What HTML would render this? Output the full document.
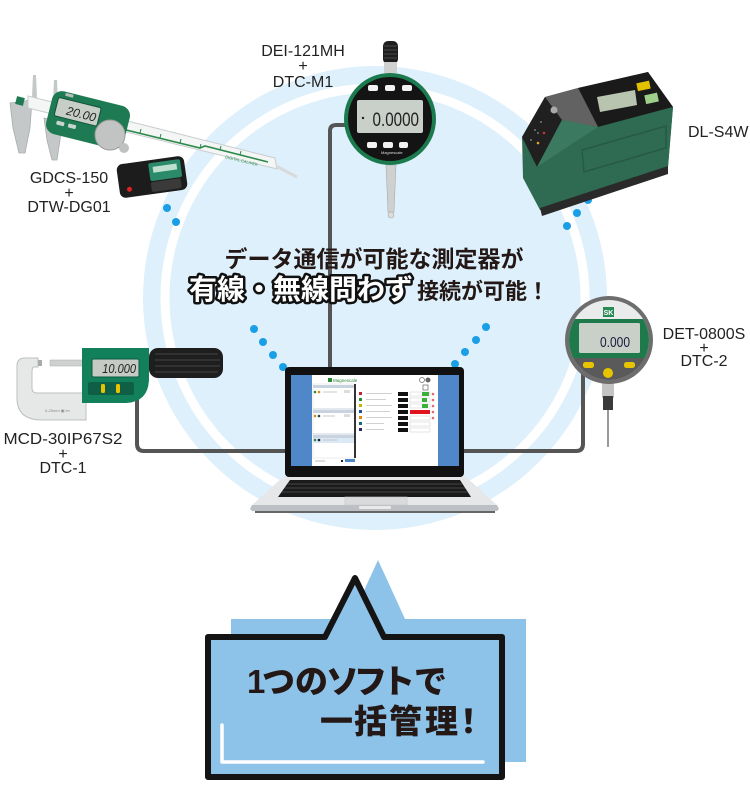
<!DOCTYPE html>
<html><head><meta charset="utf-8">
<style>
html,body{margin:0;padding:0;background:#fff;}
svg{display:block;}
.lbl{font-family:"Liberation Sans",sans-serif;font-size:16px;fill:#222;text-anchor:middle;}
.jp{font-family:"Liberation Sans","Noto Sans CJK JP",sans-serif;}
</style></head><body>
<svg width="750" height="785" viewBox="0 0 750 785" xmlns="http://www.w3.org/2000/svg">
<defs>
<clipPath id="detc"><circle cx="609" cy="340" r="40"/></clipPath>
</defs>
<rect width="750" height="785" fill="#fff"/>
<!-- big circle -->
<circle cx="375" cy="298" r="232" fill="#def0fb"/>
<circle cx="375" cy="298" r="210" fill="none" stroke="#fff" stroke-width="9"/>

<!-- connector lines -->
<g fill="none" stroke="#555" stroke-width="4" stroke-linejoin="round">
<path d="M348 125 H336 Q330 125 330 131 V372"/>
<path d="M137 398 V444 Q137 451 144 451 H290"/>
<path d="M460 451 H576 Q583 451 583 444 V372"/>
</g>

<!-- dots -->
<g fill="#1a9fe6">
<circle cx="167" cy="208" r="4"/><circle cx="176" cy="222" r="4"/>
<circle cx="588" cy="200" r="4"/><circle cx="577" cy="213" r="4"/><circle cx="567" cy="226" r="4"/>
<circle cx="254" cy="329" r="4"/><circle cx="263" cy="342" r="4"/><circle cx="273" cy="355" r="4"/><circle cx="283" cy="367" r="4"/>
<circle cx="486" cy="327" r="4"/><circle cx="476" cy="340" r="4"/><circle cx="465" cy="352" r="4"/><circle cx="455" cy="364" r="4"/>
</g>

<!-- center text -->
<text class="jp" x="374" y="267" font-size="23" font-weight="700" text-anchor="middle" fill="#231815">データ通信が可能な測定器が</text>
<text class="jp" y="299" font-weight="700"><tspan x="189" font-size="28" fill="#fff" stroke="#111" stroke-width="5" stroke-linejoin="round" paint-order="stroke">有線・無線問わず</tspan><tspan dx="4" font-size="22" fill="#231815">接続が可能！</tspan></text>

<!-- ===== Caliper ===== -->
<g>
<polygon points="10,103 32,100 30,128 25,153 19,153 13,128" fill="#c5c8c8" stroke="#a9acac" stroke-width="0.8"/>
<polygon points="32,97 33,75 36,75 37,98" fill="#c5c8c8"/>
<polygon points="53,102 54,80 57,80 58,104" fill="#c5c8c8"/>
<polygon points="44,118 62,122 60,140 57,160 52,160 47,140" fill="#c5c8c8" stroke="#a9acac" stroke-width="0.8"/>
<polygon points="28,96 275,158 277,169 28,108" fill="#f4f6f6" stroke="#c8cccc" stroke-width="1"/>
<line x1="276" y1="166" x2="297" y2="177" stroke="#d8dada" stroke-width="3"/>
<polyline points="110,126 200,148 205,146 268,162" fill="none" stroke="#2b8a4a" stroke-width="1.6"/>
<g stroke="#2b8a4a" stroke-width="1">
<line x1="140" y1="133" x2="141" y2="129"/><line x1="160" y1="138" x2="161" y2="134"/><line x1="180" y1="143" x2="181" y2="139"/><line x1="200" y1="148" x2="201" y2="144"/><line x1="220" y1="150" x2="221" y2="146"/><line x1="240" y1="155" x2="241" y2="151"/>
</g>
<text x="0" y="0" font-family="Liberation Sans,sans-serif" font-size="4" fill="#2b8a4a" transform="translate(225,158) rotate(14)">DIGITAL CALIPER</text>
<g transform="translate(88,120) rotate(14)">
<rect x="-40" y="-22" width="80" height="44" rx="10" fill="#1e7a52"/>
<rect x="-34" y="-15" width="44" height="19" rx="2" fill="#c7cdc7" stroke="#0f5236" stroke-width="1"/>
<text x="7" y="0" font-family="Liberation Sans,sans-serif" font-size="12" text-anchor="end" fill="#222" font-style="italic">20.00</text>
<rect x="-30" y="8" width="8" height="4" rx="1" fill="#c9d4cf"/><rect x="-18" y="8" width="8" height="4" rx="1" fill="#c9d4cf"/>
<rect x="-28" y="-21" width="8" height="3" fill="#bbb"/>
</g>
<circle cx="110" cy="135" r="15" fill="#c2c4c4" stroke="#9a9c9c" stroke-width="1"/>
<circle cx="124" cy="148" r="5" fill="#bfc1c1"/>
<rect x="16" y="97" width="8" height="8" fill="#1e7a52" transform="rotate(14 20 101)"/>
</g>
<!-- DTW-DG01 -->
<g transform="rotate(-8 152 177)">
<rect x="118" y="160" width="68" height="34" rx="6" fill="#1c1c1c"/>
<rect x="150" y="163" width="32" height="18" rx="2" fill="#2a8a6a"/>
<rect x="154" y="167" width="24" height="6" fill="#bfe0cf"/>
<rect x="150" y="182" width="30" height="10" rx="2" fill="#3a3a3a"/>
<circle cx="128" cy="186" r="2.5" fill="#d22"/>
</g>

<!-- ===== DEI-121MH dial gauge ===== -->
<g>
<rect x="383" y="41" width="15" height="23" rx="5" fill="#1e1e1e"/>
<g stroke="#555" stroke-width="0.8"><line x1="384" y1="46" x2="397" y2="46"/><line x1="384" y1="50" x2="397" y2="50"/><line x1="384" y1="54" x2="397" y2="54"/><line x1="384" y1="58" x2="397" y2="58"/></g>
<rect x="384" y="62" width="13" height="11" fill="#cfd1d1"/>
<polygon points="386,165 396,165 394,212 388,212" fill="#cfd1d1" stroke="#aaa" stroke-width="0.6"/>
<circle cx="391" cy="215" r="3" fill="#ddd" stroke="#aaa" stroke-width="0.6"/>
<circle cx="390" cy="119" r="46" fill="#1b7a4e"/>
<circle cx="390" cy="119" r="42" fill="#141414"/>
<rect x="357" y="100" width="66" height="33" rx="2" fill="#c9cfc9"/>
<text x="0" y="0" font-family="Liberation Sans,sans-serif" font-size="19" fill="#222" transform="translate(419,126) scale(0.8,1)" text-anchor="end">0.0000</text>
<circle cx="363" cy="118" r="1.2" fill="#222"/>
<g fill="#f2f2f2"><rect x="368" y="85" width="10" height="6" rx="2"/><rect x="385" y="85" width="10" height="6" rx="2"/><rect x="402" y="85" width="10" height="6" rx="2"/>
<rect x="367" y="142" width="10" height="6" rx="2"/><rect x="383" y="142" width="10" height="6" rx="2"/><rect x="399" y="142" width="9" height="6" rx="2"/></g>
<text x="381" y="154" font-family="Liberation Sans,sans-serif" font-size="4" fill="#ddd">Magnescale</text>
</g>

<!-- ===== DL-S4W ===== -->
<g>
<polygon points="522,137 545,97 578,88 648,72 673,107 668,167 540,210 523,178" fill="#2f6a52"/>
<polygon points="578,88 648,72 673,107 598,127" fill="#1a1a1a"/>
<polygon points="545,97 578,88 598,127 562,120" fill="#626262"/>
<polygon points="522,137 545,97 562,120 537,167" fill="#202020"/>
<polygon points="562,120 598,127 537,167" fill="#3b7a60"/>
<polygon points="598,127 673,107 668,167 540,210 537,167" fill="#2f6a52"/>
<polyline points="582,150 666,126 666,148 584,172 582,150" fill="none" stroke="#275a46" stroke-width="1.5"/>
<polygon points="540,208 668,166 668,174 542,216" fill="#2a2a2a"/>
<polygon points="597,97 635,90 637,105 600,112" fill="#b9c4b0"/>
<rect x="637" y="82" width="13" height="8" fill="#e2c200" transform="rotate(-12 643 86)"/>
<rect x="645" y="94" width="13" height="9" fill="#9fd08a" transform="rotate(-12 651 98)"/>
<circle cx="554" cy="110" r="3.5" fill="#aaa"/>
<g fill="#777"><circle cx="535" cy="130" r="1"/><circle cx="541" cy="122" r="1"/><circle cx="531" cy="140" r="1"/><circle cx="538" cy="133" r="1"/></g>
<circle cx="544" cy="133" r="1.3" fill="#c33"/><circle cx="538" cy="143" r="1.3" fill="#da2"/>
</g>

<!-- ===== Micrometer ===== -->
<g>
<path d="M25 358 H38 V367 H34 Q32 367 32 372 V388 Q32 393 37 393 H86 V420 H42 Q17 420 17 398 V366 Q17 358 25 358 Z" fill="#e6e8e8" stroke="#bcbfbf" stroke-width="1"/>
<rect x="38" y="360" width="4" height="6" fill="#aaa"/>
<rect x="50" y="360" width="34" height="6" fill="#cfd1d1" stroke="#aaa" stroke-width="0.5"/>
<path d="M82 348 H149 V378 Q149 403 124 403 H82 Z" fill="#13805c"/>
<rect x="92" y="359" width="47" height="18" rx="1.5" fill="#c5cbc4" stroke="#0d5a40" stroke-width="1"/>
<text x="0" y="0" font-family="Liberation Sans,sans-serif" font-size="13" font-style="italic" fill="#222" transform="translate(136,373) scale(0.85,1)" text-anchor="end">10.000</text>
<rect x="88" y="382" width="46" height="13" rx="2" fill="#0e5f45"/>
<rect x="101" y="384" width="4" height="9" rx="1.5" fill="#e8c400"/>
<rect x="116" y="384" width="4" height="9" rx="1.5" fill="#e8c400"/>
<rect x="149" y="348" width="74" height="30" rx="9" fill="#1e1e1e"/>
<g stroke="#444" stroke-width="1"><line x1="155" y1="354" x2="218" y2="354"/><line x1="155" y1="360" x2="220" y2="360"/><line x1="155" y1="366" x2="220" y2="366"/><line x1="155" y1="372" x2="218" y2="372"/></g>
<text x="45" y="412" font-family="Liberation Sans,sans-serif" font-size="4" fill="#888">0-25mm  ▣  ▪▪▪</text>
</g>

<!-- ===== DET-0800S ===== -->
<g>
<rect x="602" y="378" width="12" height="20" fill="#c3c5c5"/>
<rect x="603" y="396" width="10" height="14" fill="#3a3a3a"/>
<line x1="608" y1="410" x2="608" y2="447" stroke="#999" stroke-width="2"/>
<circle cx="609" cy="340" r="44" fill="#6d6d6d"/>
<g clip-path="url(#detc)">
<rect x="565" y="296" width="90" height="90" fill="#e9ecea"/>
<rect x="565" y="319" width="90" height="39" fill="#1e7a4a"/>
<rect x="565" y="358" width="90" height="30" fill="#5a5a5a"/>
</g>
<rect x="579" y="323" width="61" height="30" rx="1.5" fill="#c9d0c7"/>
<text x="0" y="0" font-family="Liberation Sans,sans-serif" font-size="15" fill="#1a1a40" transform="translate(630,347) scale(0.8,1)" text-anchor="end">0.000</text>
<rect x="603" y="307" width="11" height="10" fill="#2a8a55"/>
<text x="608.5" y="315" font-family="Liberation Sans,sans-serif" font-size="7" font-weight="700" fill="#fff" text-anchor="middle">SK</text>
<rect x="583" y="362" width="11" height="6" rx="2.5" fill="#e8c400"/>
<rect x="624" y="362" width="11" height="6" rx="2.5" fill="#e8c400"/>
<circle cx="608" cy="373" r="5" fill="#e8c400"/>
</g>

<!-- ===== Laptop ===== -->
<g>
<path d="M283 477 H466 L497 505 H252 Z" fill="#e6e7e9"/>
<path d="M252 505 H497 L499 509 L497 511 H252 L250 509 Z" fill="#bcbfc3"/>
<rect x="255" y="511" width="240" height="2" fill="#666"/>
<path d="M290 480 H460 L471 497 H278 Z" fill="#1a1a1a"/>
<g stroke="#555" stroke-width="0.7">
<line x1="288" y1="484" x2="462" y2="484"/><line x1="285" y1="488" x2="465" y2="488"/><line x1="282" y1="492" x2="468" y2="492"/>
</g>
<rect x="345" y="497" width="62" height="8" fill="#d9dadc" stroke="#c6c7c9" stroke-width="0.6"/>
<rect x="359" y="506" width="32" height="3" rx="1" fill="#e9e9e9"/>
<rect x="285" y="367" width="179" height="110" rx="4" fill="#111"/>
<rect x="291" y="375" width="168" height="91" fill="#fff"/>
<rect x="291" y="375" width="21" height="91" fill="#4f87c8"/>
<rect x="438" y="375" width="21" height="91" fill="#4f87c8"/>
<rect x="328" y="378" width="4" height="4" fill="#2a8a3a"/>
<text x="333" y="382" font-family="Liberation Sans,sans-serif" font-size="4.5" fill="#2a8a3a">Magnescale</text>
<circle cx="422" cy="380" r="2.5" fill="none" stroke="#666" stroke-width="0.7"/>
<circle cx="428" cy="380" r="2.5" fill="#666"/>
<rect x="423" y="385" width="5" height="5" fill="none" stroke="#666" stroke-width="0.7"/>
<!-- left panel -->
<rect x="313" y="384" width="42" height="74" fill="#fff" stroke="#ddd" stroke-width="0.5"/>
<rect x="313" y="385" width="41" height="3" fill="#c9d3df"/>
<circle cx="315" cy="392" r="1.3" fill="#2a8a3a"/><circle cx="319" cy="392" r="1.3" fill="#e08a10"/>
<line x1="323" y1="392" x2="337" y2="392" stroke="#bbb" stroke-width="0.8"/>
<rect x="344" y="390" width="6" height="3" fill="#ddd"/>
<line x1="313" y1="409" x2="354" y2="409" stroke="#c9d3df" stroke-width="1"/>
<rect x="313" y="410" width="41" height="3" fill="#c9d3df"/>
<circle cx="315" cy="416" r="1.3" fill="#e08a10"/><circle cx="319" cy="416" r="1.3" fill="#1a4a4a"/>
<line x1="323" y1="416" x2="335" y2="416" stroke="#bbb" stroke-width="0.8"/>
<rect x="344" y="414" width="6" height="3" fill="#ddd"/>
<line x1="313" y1="434" x2="354" y2="434" stroke="#c9d3df" stroke-width="1"/>
<rect x="313" y="435" width="41" height="3" fill="#c9d3df"/>
<rect x="313" y="438" width="41" height="5" fill="#dbe8f6"/>
<circle cx="315" cy="440" r="1.3" fill="#2a8a3a"/><circle cx="319" cy="440" r="1.3" fill="#1a1a3a"/>
<line x1="323" y1="440" x2="337" y2="440" stroke="#bbb" stroke-width="0.8"/>
<rect x="354" y="384" width="2" height="74" fill="#333"/>
<line x1="315" y1="461" x2="325" y2="461" stroke="#aaa" stroke-width="0.8"/>
<rect x="341" y="460" width="2" height="2" fill="#222"/>
<rect x="345" y="459" width="10" height="3" fill="#4f87c8"/>
<!-- right list -->
<g>
<rect x="359" y="392" width="3" height="3" fill="#c0282d"/>
<rect x="359" y="398" width="3" height="3" fill="#2a8a3a"/>
<rect x="359" y="404" width="3" height="3" fill="#c8b400"/>
<rect x="359" y="410" width="3" height="3" fill="#1a4fa0"/>
<rect x="359" y="416" width="3" height="3" fill="#e08a10"/>
<rect x="359" y="422" width="3" height="3" fill="#1a6a6a"/>
<rect x="359" y="428" width="3" height="3" fill="#2a2a6a"/>
<g stroke="#c2c2c2" stroke-width="0.8">
<line x1="366" y1="393.5" x2="392" y2="393.5"/><line x1="366" y1="399.5" x2="386" y2="399.5"/><line x1="366" y1="405.5" x2="392" y2="405.5"/><line x1="366" y1="411.5" x2="390" y2="411.5"/><line x1="366" y1="417.5" x2="392" y2="417.5"/><line x1="366" y1="423.5" x2="384" y2="423.5"/><line x1="366" y1="429.5" x2="384" y2="429.5"/>
</g>
<g fill="#111">
<rect x="398" y="392" width="10" height="4"/><rect x="398" y="398" width="10" height="4"/><rect x="398" y="404" width="10" height="4"/><rect x="398" y="410" width="10" height="4"/><rect x="398" y="416" width="10" height="4"/><rect x="398" y="422" width="10" height="4"/><rect x="398" y="428" width="10" height="4"/>
</g>
<g fill="#fff" stroke="#ccc" stroke-width="0.5">
<rect x="410" y="392" width="20" height="4"/><rect x="410" y="398" width="20" height="4"/><rect x="410" y="404" width="20" height="4"/><rect x="410" y="416" width="20" height="4"/><rect x="410" y="422" width="20" height="4"/><rect x="410" y="428" width="20" height="4"/>
</g>
<rect x="422" y="392" width="7" height="4" fill="#3ab03a"/>
<rect x="422" y="398" width="5" height="4" fill="#3ab03a"/>
<rect x="422" y="404" width="6" height="4" fill="#3ab03a"/>
<rect x="410" y="410" width="20" height="4" fill="#e0141e"/>
<g fill="#e36a6a"><circle cx="433" cy="394" r="1.3"/><circle cx="433" cy="400" r="1.3"/><circle cx="433" cy="406" r="1.3"/><circle cx="433" cy="412" r="1.3"/><circle cx="433" cy="418" r="1.3"/></g>
</g>
</g>

<!-- labels -->
<text class="lbl" x="303" y="56">DEI-121MH</text>
<text class="lbl" x="303" y="71">+</text>
<text class="lbl" x="303" y="87">DTC-M1</text>
<text class="lbl" x="69" y="183">GDCS-150</text>
<text class="lbl" x="69" y="198">+</text>
<text class="lbl" x="69" y="212">DTW-DG01</text>
<text class="lbl" x="688" y="137" style="text-anchor:start">DL-S4W</text>
<text class="lbl" x="704" y="339">DET-0800S</text>
<text class="lbl" x="704" y="353">+</text>
<text class="lbl" x="704" y="366">DTC-2</text>
<text class="lbl" x="63" y="444" textLength="119" lengthAdjust="spacingAndGlyphs">MCD-30IP67S2</text>
<text class="lbl" x="63" y="459">+</text>
<text class="lbl" x="63" y="473">DTC-1</text>

<!-- speech bubble -->
<rect x="231" y="619" width="295" height="143" fill="#8ec3e9"/>
<polygon points="378,560 405,619 351,619" fill="#8ec3e9"/>
<path d="M208 637 H325 L355 578 L384 637 H502 V777 H208 Z" fill="#8ec3e9" stroke="#141414" stroke-width="6" stroke-linejoin="round"/>
<path d="M222 725 V762 H483" fill="none" stroke="#fff" stroke-width="3.5" stroke-linecap="round" stroke-linejoin="round"/>
<g class="jp" font-weight="900" fill="#231815" font-size="33">
<text y="693"><tspan x="247">1</tspan><tspan x="262">つ</tspan><tspan x="295">の</tspan><tspan x="326">ソ</tspan><tspan x="354">フ</tspan><tspan x="382">ト</tspan><tspan x="414">で</tspan></text>
<text y="733"><tspan x="320">一</tspan><tspan x="354">括</tspan><tspan x="389">管</tspan><tspan x="425">理</tspan><tspan x="452">！</tspan></text>
</g>
</svg>
</body></html>
